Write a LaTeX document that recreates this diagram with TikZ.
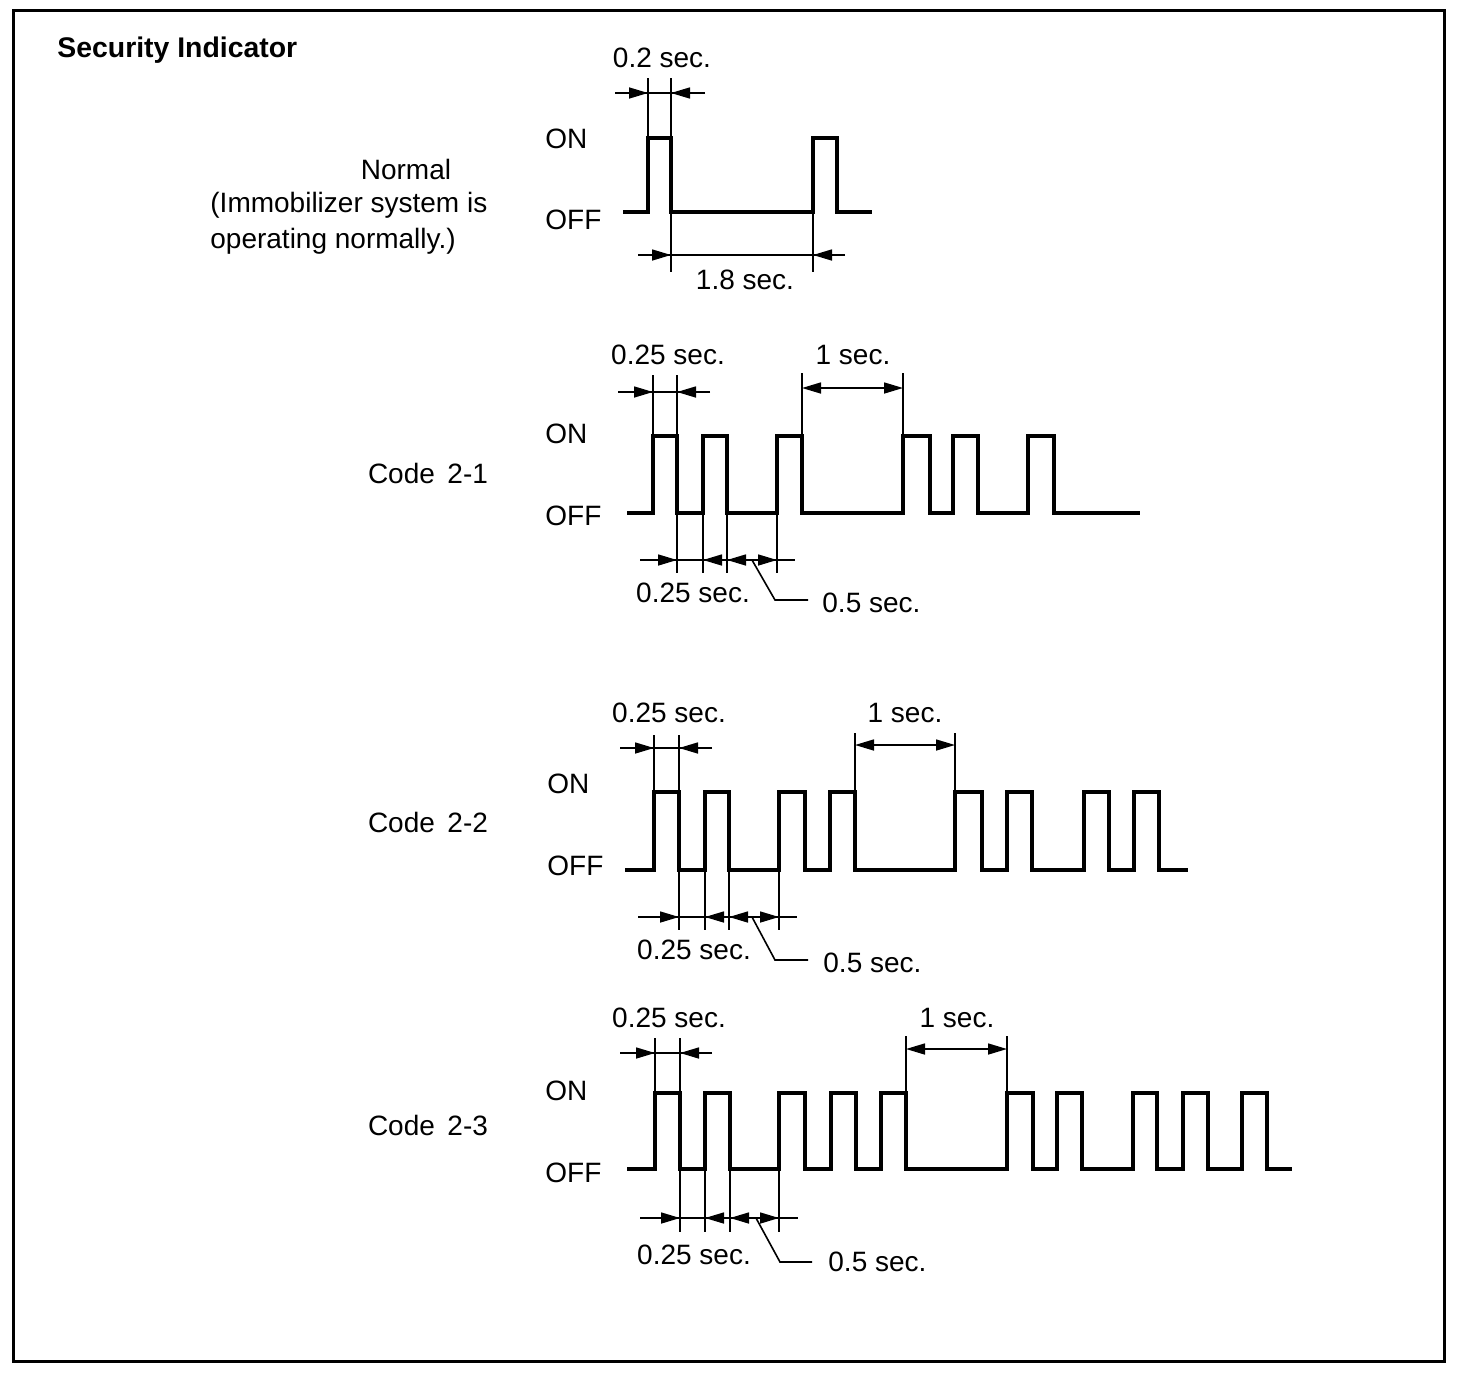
\documentclass[tikz,border=0pt]{standalone}
\usepackage{fontspec}
\setmainfont{Liberation Sans}
\usetikzlibrary{arrows.meta}
\newcommand{\wavetrain}[5]{%
  \draw[wave] (#3,#1) \foreach \r/\f in {#5} { -| (\r,#2) -| (\f,#1) } -- (#4,#1);
}
% dimension with outside arrows: #1 y, #2 x1, #3 x2, #4 left end, #5 right end
\newcommand{\outdim}[5]{%
  \draw[dimline] (#4,#1) -- (#5,#1);
  \draw[tip] (#4,#1) -- (#2,#1);
  \draw[tip] (#5,#1) -- (#3,#1);
}
\begin{document}
\begin{tikzpicture}[x=0.5pt,y=-0.5pt,
  wave/.style={line width=1.8pt, line join=miter},
  dimline/.style={line width=0.8pt},
  tip/.style={dimline,-{Triangle[length=9.5pt,width=5.5pt]}},
  dtip/.style={dimline,{Triangle[length=9.5pt,width=5.5pt]}-{Triangle[length=9.5pt,width=5.5pt]}},
  lbl/.style={inner sep=0pt, font=\fontsize{14pt}{16pt}\selectfont},
  ]
\useasboundingbox (0,0) rectangle (1472,1376);
\draw[line width=1.5pt] (13,10) rectangle (1444,1361);

\node[lbl, anchor=west, font=\fontsize{14.2pt}{16pt}\selectfont\bfseries] (title) at (57,50) {Security Indicator};

% ---------------- Normal ----------------
\node[lbl] (n-top) at (662,58) {0.2 sec.};
\node[lbl, anchor=west] (n-on) at (545,139) {ON};
\node[lbl, anchor=west] (n-off) at (545,220) {OFF};
\node[lbl] (n-name) at (406,169) {Normal};
\node[lbl, anchor=west] (n-d1) at (210,205) {(Immobilizer system is};
\node[lbl, anchor=west] (n-d2) at (210,241) {operating normally.)};
\node[lbl] (n-bot) at (745,280) {1.8 sec.};
\wavetrain{212}{138}{623}{872}{648/671,813/837}
\draw[dimline] (648,78) -- (648,138);
\draw[dimline] (671,78) -- (671,138);
\outdim{93}{648}{671}{615}{705}
\draw[dimline] (671,212) -- (671,272);
\draw[dimline] (813,212) -- (813,272);
\outdim{255}{671}{813}{638}{845}

% ---------------- Code 2-1 ----------------
\node[lbl] (a-top) at (668,355) {0.25 sec.};
\node[lbl] (a-one) at (853,355) {1 sec.};
\node[lbl, anchor=west] (a-on) at (545,434) {ON};
\node[lbl, anchor=west] (a-off) at (545,516) {OFF};
\node[lbl] (a-name) at (428,473) {Code\hspace{0.45em}2-1};
\node[lbl] (a-bot) at (693,593) {0.25 sec.};
\node[lbl, anchor=west] (a-half) at (822,603) {0.5 sec.};
\wavetrain{513}{436}{627}{1140}{653/677,703/727,777/802,903/930,953/978,1028/1054}
\draw[dimline] (653,375) -- (653,436);
\draw[dimline] (677,375) -- (677,436);
\outdim{392}{653}{677}{618}{710}
\draw[dimline] (802,373) -- (802,436);
\draw[dimline] (903,373) -- (903,436);
\draw[dtip] (802,388) -- (903,388);
\foreach \x in {677,703,727,777} \draw[dimline] (\x,513) -- (\x,573);
\draw[dimline] (640,560) -- (795,560);
\draw[tip] (652,560) -- (677,560);
\draw[tip] (727,560) -- (703,560);
\draw[tip] (752,560) -- (727,560);
\draw[tip] (752,560) -- (777,560);
\draw[dimline] (752,560) -- (775,600) -- (808,600);

% ---------------- Code 2-2 ----------------
\node[lbl] (b-top) at (669,713) {0.25 sec.};
\node[lbl] (b-one) at (905,713) {1 sec.};
\node[lbl, anchor=west] (b-on) at (547,784) {ON};
\node[lbl, anchor=west] (b-off) at (547,866) {OFF};
\node[lbl] (b-name) at (428,822) {Code\hspace{0.45em}2-2};
\node[lbl] (b-bot) at (694,950) {0.25 sec.};
\node[lbl, anchor=west] (b-half) at (823,963) {0.5 sec.};
\wavetrain{870}{792}{625}{1188}{654/679,705/729,779/805,830/855,955/982,1007/1032,1084/1109,1134/1159}
\draw[dimline] (654,735) -- (654,792);
\draw[dimline] (679,735) -- (679,792);
\outdim{748}{654}{679}{620}{712}
\draw[dimline] (855,733) -- (855,792);
\draw[dimline] (955,733) -- (955,792);
\draw[dtip] (855,745) -- (955,745);
\foreach \x in {679,705,729,779} \draw[dimline] (\x,870) -- (\x,930);
\draw[dimline] (638,917) -- (797,917);
\draw[tip] (654,917) -- (679,917);
\draw[tip] (729,917) -- (705,917);
\draw[tip] (754,917) -- (729,917);
\draw[tip] (754,917) -- (779,917);
\draw[dimline] (752,917) -- (775,960) -- (808,960);

% ---------------- Code 2-3 ----------------
\node[lbl] (c-top) at (669,1018) {0.25 sec.};
\node[lbl] (c-one) at (957,1018) {1 sec.};
\node[lbl, anchor=west] (c-on) at (545,1091) {ON};
\node[lbl, anchor=west] (c-off) at (545,1173) {OFF};
\node[lbl] (c-name) at (428,1125) {Code\hspace{0.45em}2-3};
\node[lbl] (c-bot) at (694,1255) {0.25 sec.};
\node[lbl, anchor=west] (c-half) at (828,1262) {0.5 sec.};
\wavetrain{1169}{1093}{627}{1292}{655/680,705/730,779/805,831/856,881/906,1007/1033,1057/1082,1133/1157,1183/1208,1242/1267}
\draw[dimline] (655,1038) -- (655,1093);
\draw[dimline] (680,1038) -- (680,1093);
\outdim{1053}{655}{680}{620}{712}
\draw[dimline] (906,1036) -- (906,1093);
\draw[dimline] (1007,1036) -- (1007,1093);
\draw[dtip] (906,1049) -- (1007,1049);
\foreach \x in {680,705,730,779} \draw[dimline] (\x,1169) -- (\x,1232);
\draw[dimline] (640,1218) -- (798,1218);
\draw[tip] (655,1218) -- (680,1218);
\draw[tip] (730,1218) -- (705,1218);
\draw[tip] (755,1218) -- (730,1218);
\draw[tip] (755,1218) -- (779,1218);
\draw[dimline] (756,1218) -- (780,1262) -- (812,1262);
\end{tikzpicture}
\end{document}
